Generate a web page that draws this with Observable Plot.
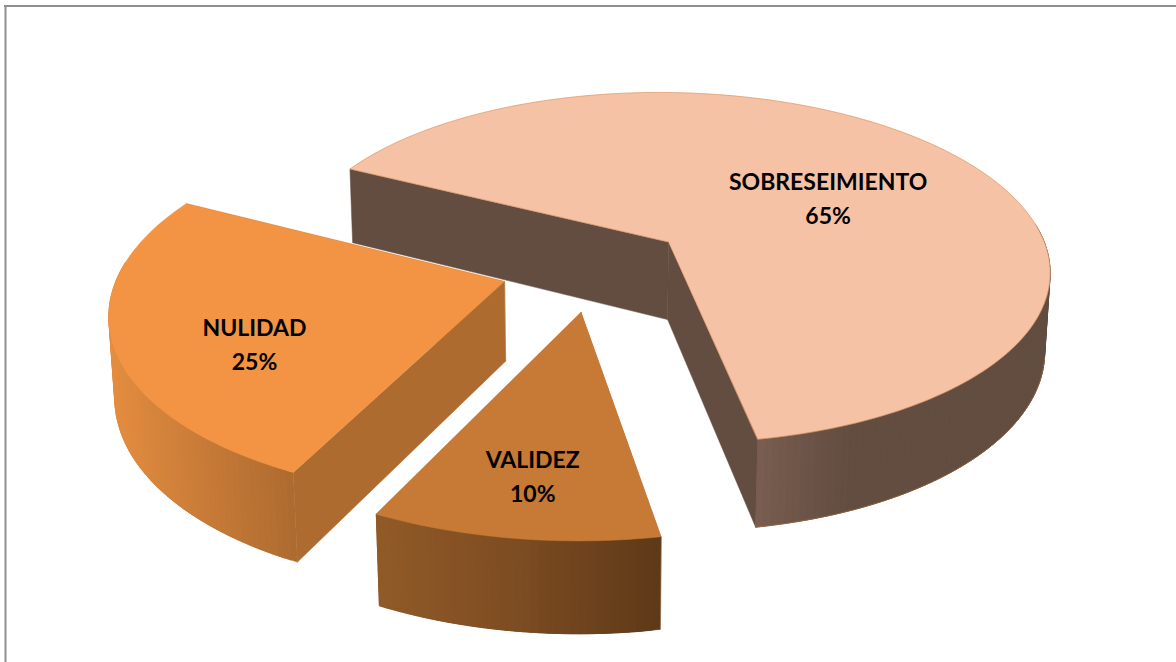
<!DOCTYPE html>
<html><head><meta charset="utf-8">
<style>html,body{margin:0;padding:0;background:#fff;overflow:hidden}svg{display:block}</style>
<script src="https://cdn.jsdelivr.net/npm/d3@7"></script>
<script src="https://cdn.jsdelivr.net/npm/@observablehq/plot@0.6"></script>
</head><body><div id="chart"></div>
<script>
// Data
const categories = ["SOBRESEIMIENTO", "VALIDEZ", "NULIDAD"];
const shares = [64.7, 10.0, 25.3]; // labels show them rounded
const topColors = ["#F6C2A6", "#C67A36", "#F29443"];
const radialColors = ["#624D40", "#AE6B30", "#AE6B30"];
const wallStops = [
  ["#7A5F51", "#6D5548", "#624D40", "#624D40", "#624D40", "#624D40", "#624D40"],
  ["#915B27", "#7D4C22", "#5F3A18"],
  ["#E48D40", "#AE6B30"]
];
const labelRadius = [0.528, 0.75, 0.678];
const labelTurn = [5, 0, -9];

// Layout of the perspective pie
const W = 1176, H = 662;
const view = {x0: 594, y0: 267, sx: 384, sy: 179, k: 0.15, depth: 80, shrink: 0.012};
const startAngle = -153, explode = 0.245;
const rad = d => d * Math.PI / 180;
const project = (X, Y, Z = 0) => {
  const w = 1 - view.k * Y + view.shrink * Z;
  return {x: view.x0 + view.sx * X / w, y: view.y0 + (view.sy * Y + view.depth * Z) / w};
};

const polys = [], outline = [], labels = [];
let pid = 0;
const addPoly = (pts, color) => {
  const id = pid++;
  pts.forEach(p => polys.push({id, x: p.x, y: p.y, color}));
};

let a0 = startAngle;
shares.forEach((share, i) => {
  const span = share * 3.6, a1 = a0 + span, mid = a0 + span / 2;
  const cx = explode * Math.cos(rad(mid)), cy = explode * Math.sin(rad(mid));
  const rim = a => [cx + Math.cos(rad(a)), cy + Math.sin(rad(a))];
  const n = Math.ceil(span);
  const steps = d3.range(0, n + 1).map(j => a0 + span * j / n);
  // radial walls first, so the outer wall and top cover whatever faces away
  [a0, a1].forEach(a => {
    const [rx, ry] = rim(a);
    addPoly([project(cx, cy), project(rx, ry), project(rx, ry, 1), project(cx, cy, 1)], radialColors[i]);
  });
  // outer wall: only the stretch facing the viewer, overlapping strips shaded left to right
  const front = steps.filter(a => Math.sin(rad(a)) > -0.12);
  const [xa, xb] = d3.extent(front.map(a => project(...rim(a), 1).x));
  const grad = d3.piecewise(d3.interpolateRgb, wallStops[i]);
  front.slice(0, -1).forEach((a, j) => {
    const p = rim(a), q = rim(front[Math.min(j + 3, front.length - 1)]);
    const t = Math.max(0, Math.min(1, (project(...p, 1).x - xa) / (xb - xa)));
    addPoly([project(...p), project(...q), project(...q, 1), project(...p, 1)], grad(t));
  });
  // top face
  addPoly([project(cx, cy), ...steps.map(a => project(...rim(a)))], topColors[i]);
  if (i === 0) {
    [project(cx, cy), ...steps.map(a => project(...rim(a))), project(cx, cy)].forEach(p => outline.push({id: 0, ...p}));
    steps.filter(a => Math.sin(rad(a)) > 0.2).forEach(a => outline.push({id: 1, ...project(...rim(a), 1)}));
  }
  const la = mid + labelTurn[i];
  const lp = project(cx + labelRadius[i] * Math.cos(rad(la)), cy + labelRadius[i] * Math.sin(rad(la)));
  labels.push({x: lp.x, y: lp.y, text: `${categories[i]}\n${Math.round(share)}%`});
  a0 = a1;
});

const chart = Plot.plot({
  width: W, height: H, margin: 0,
  x: {type: "identity", axis: null},
  y: {type: "identity", axis: null},
  marks: [
    Plot.ruleY([5.5], {x1: 4, x2: W, stroke: "#8f8f8f", strokeWidth: 2}),
    Plot.ruleX([5], {y1: 5, y2: H, stroke: "#8f8f8f", strokeWidth: 2}),
    Plot.line(polys, {x: "x", y: "y", z: "id", fill: "color", stroke: "color", strokeWidth: 0.5, curve: "linear-closed"}),
    Plot.line(outline, {x: "x", y: "y", z: "id", stroke: "#C67A36", strokeWidth: 0.6, strokeOpacity: 0.7}),
    Plot.text(labels, {x: "x", y: "y", text: "text", fontFamily: "Lato, 'Open Sans', sans-serif", fontWeight: 700, fontSize: 23, lineHeight: 1.48, fill: "#000"})
  ]
});
document.getElementById("chart").append(chart);
</script></body></html>
